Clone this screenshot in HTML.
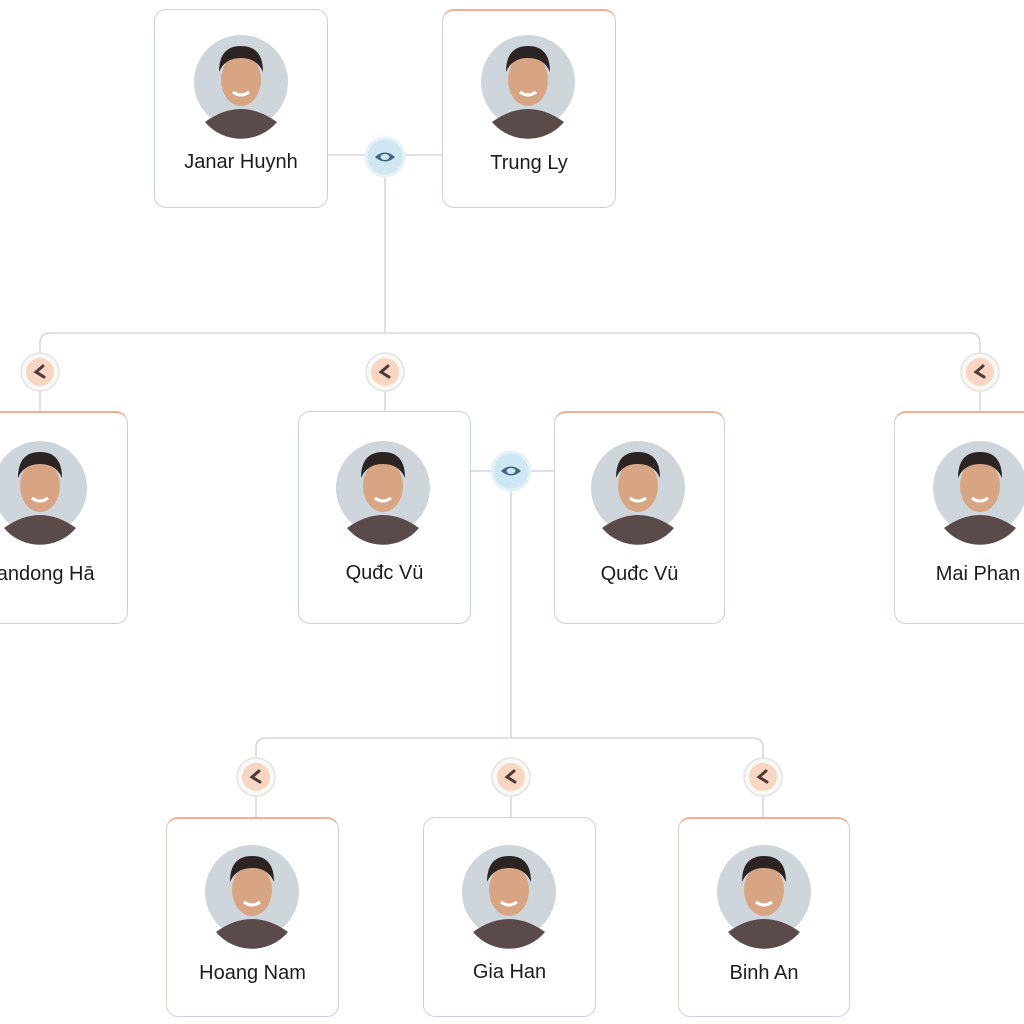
<!DOCTYPE html>
<html><head><meta charset="utf-8"><style>
html,body{margin:0;padding:0;background:#fff;width:1024px;height:1024px;overflow:hidden;position:relative;font-family:"Liberation Sans",sans-serif}
.card{position:absolute;box-sizing:border-box;background:#fff;border:1.5px solid #c9d2db;border-radius:12px}
.card.o{border-color:#e6cfc6 #c9d2db #c9d2db #dccfcb;border-top:2px solid #f0b090}
.name{position:absolute;left:0;right:0;text-align:center;font-size:20px;color:#1c1c1c}
svg{position:absolute;left:0;top:0}
</style></head><body>
<svg width="1024" height="1024">
<g stroke="#d2d6db" stroke-width="1.5" fill="none">
<line x1="327" y1="155" x2="442" y2="155"/>
<line x1="385" y1="175" x2="385" y2="333"/>
<path d="M40 353 V343 Q40 333 50 333 H970 Q980 333 980 343 V353"/>
<line x1="385" y1="391" x2="385" y2="411"/>
<line x1="40" y1="391" x2="40" y2="411"/>
<line x1="980" y1="391" x2="980" y2="411"/>
<line x1="470" y1="471" x2="554" y2="471"/>
<line x1="511" y1="490" x2="511" y2="738"/>
<path d="M256 758 V748 Q256 738 266 738 H753 Q763 738 763 748 V758"/>
<line x1="256" y1="796" x2="256" y2="817"/>
<line x1="511" y1="796" x2="511" y2="817"/>
<line x1="763" y1="796" x2="763" y2="817"/>
</g>
</svg>
<div class="card" style="left:154px;top:9px;width:174px;height:199px"><div class="name" style="top:141px">Janar Huynh</div></div>
<div class="card o" style="left:442px;top:9px;width:174px;height:199px"><div class="name" style="top:141px">Trung Ly</div></div>
<div class="card o" style="left:-50px;top:411px;width:178px;height:213px"><div class="name" style="top:150px;left:-10px">Thandong Hā</div></div>
<div class="card" style="left:298px;top:411px;width:173px;height:213px"><div class="name" style="top:150px">Quđc Vü</div></div>
<div class="card o" style="left:554px;top:411px;width:171px;height:213px"><div class="name" style="top:150px">Quđc Vü</div></div>
<div class="card o" style="left:894px;top:411px;width:180px;height:213px"><div class="name" style="top:150px;left:-12px">Mai Phan</div></div>
<div class="card o" style="left:166px;top:817px;width:173px;height:200px"><div class="name" style="top:143px">Hoang Nam</div></div>
<div class="card" style="left:423px;top:817px;width:173px;height:200px"><div class="name" style="top:143px">Gia Han</div></div>
<div class="card o" style="left:678px;top:817px;width:172px;height:200px"><div class="name" style="top:143px">Binh An</div></div>
<svg width="1024" height="1024">
<defs>
<g id="eye"><circle r="19" fill="#cfe7f2" stroke="#e6f1f6" stroke-width="3"/><path d="M-10 0 Q0 -9 10 0 Q0 9 -10 0Z" fill="#3f6680"/><ellipse rx="4.5" ry="3" fill="#cfe7f2"/></g>
<g id="ch"><circle r="19" fill="#f8f8f6" stroke="#e6e3df" stroke-width="1.5"/><circle r="14" fill="#f9d6c2"/><path d="M3 -6 L-4 0 L4 5" stroke="#4b3b3b" stroke-width="3" fill="none" stroke-linecap="round"/></g>
<g id="av"><circle r="47" fill="#cfd6db"/><path d="M-36 40 Q0 14 36 40 A47 47 0 0 1 -36 40Z" fill="#5b4a4a"/><ellipse cy="-2" rx="20" ry="26" fill="#d7a583"/><path d="M-22 -10 Q-22 -36 0 -36 Q22 -36 22 -10 Q16 -24 0 -24 Q-16 -24 -22 -10Z" fill="#2c2422"/><path d="M-8 10 Q0 16 8 10" stroke="#fff" stroke-width="3" fill="none"/></g>
</defs>
<use href="#eye" x="385" y="157"/><use href="#eye" x="511" y="471"/>
<use href="#ch" x="40" y="372"/><use href="#ch" x="385" y="372"/><use href="#ch" x="980" y="372"/>
<use href="#ch" x="256" y="777"/><use href="#ch" x="511" y="777"/><use href="#ch" x="763" y="777"/>
<use href="#av" x="241" y="82"/><use href="#av" x="528" y="82"/>
<use href="#av" x="40" y="488"/><use href="#av" x="383" y="488"/><use href="#av" x="638" y="488"/><use href="#av" x="980" y="488"/>
<use href="#av" x="252" y="892"/><use href="#av" x="509" y="892"/><use href="#av" x="764" y="892"/>
</svg>
</body></html>
